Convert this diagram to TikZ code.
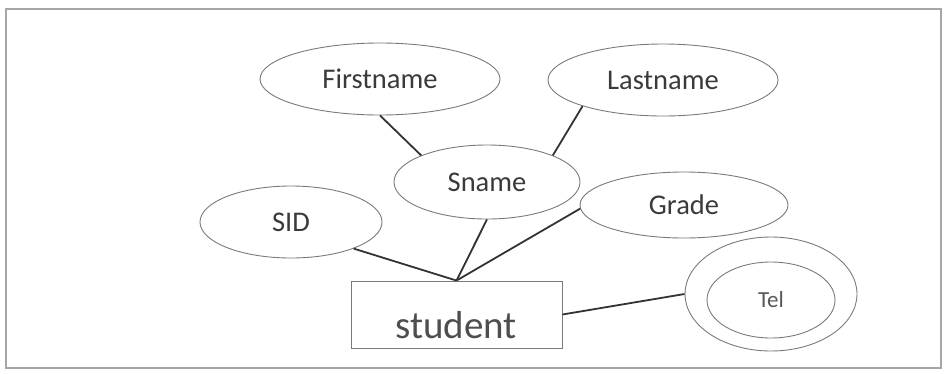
\documentclass[tikz,border=0pt]{standalone}
\usepackage{fontspec}
\setmainfont{Carlito}
\usetikzlibrary{shapes.geometric}
\definecolor{txt}{HTML}{3A3A3A}
\definecolor{outl}{HTML}{7A7A7A}
\definecolor{conn}{HTML}{333333}
\begin{document}
\begin{tikzpicture}[x=1pt,y=-1pt,
  attr/.style={draw=outl,line width=0.9pt,ellipse,inner sep=0pt,text=txt,
    font=\fontsize{28.5}{30}\selectfont},
  entitybox/.style={draw=outl,line width=0.9pt,rectangle,inner sep=0pt},
  conline/.style={draw=conn,line width=1.8pt}]
\useasboundingbox (0,0) rectangle (945,373);
\draw[draw=gray!70,line width=1.2pt] (6,9) rectangle (941,368);

\node[attr,minimum width=240pt,minimum height=72pt] (first) at (380,79) {Firstname};
\node[attr,minimum width=230pt,minimum height=72pt] (last) at (663,80) {Lastname};
\node[attr,minimum width=186pt,minimum height=74pt] (sname) at (487,182) {Sname};
\node[attr,minimum width=182pt,minimum height=72pt] (sid) at (291,222) {SID};
\node[attr,minimum width=208pt,minimum height=66pt] (grade) at (684,205) {Grade};
\node[attr,minimum width=172pt,minimum height=114pt] (telout) at (771,294) {};
\node[attr,minimum width=128pt,minimum height=76pt,
  font=\fontsize{23}{25}\selectfont,text=txt!85] (telin) at (771,300) {Tel};
\node[entitybox,minimum width=211pt,minimum height=67pt] (student) at (456.5,314.5) {};
\node[text=txt!90,font=\fontsize{39}{41}\selectfont,inner sep=0pt] (studentlbl) at (456,325) {student};

\draw[conline] (first.south) -- (sname.158);
\draw[conline] (last.198) -- (sname.22);
\draw[conline] (sid.-23) -- (student.north);
\draw[conline] (sname.south) -- (student.north);
\draw[conline] (grade.182) -- (student.north);
\draw[conline] (student.east) -- (telout.west);
\end{tikzpicture}
\end{document}
